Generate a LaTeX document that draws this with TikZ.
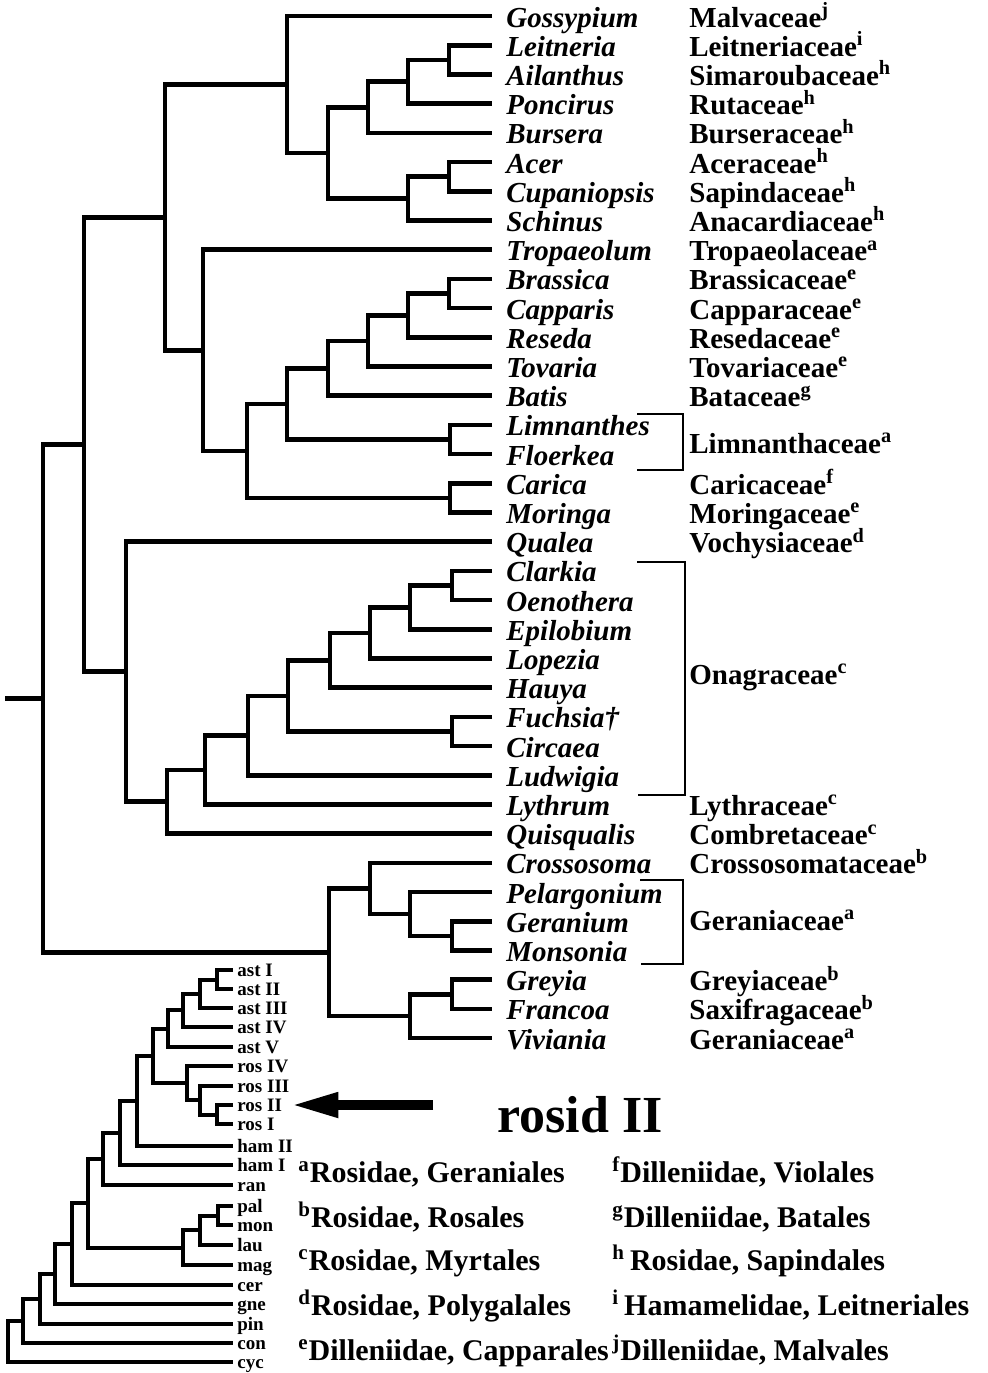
\documentclass[tikz,border=0pt]{standalone}
\usepackage{fontspec}
\setmainfont{Liberation Serif}
\usetikzlibrary{calc,arrows.meta}

\newcommand{\clade}[5][branch]{%
  \coordinate (#2m) at ($(#4)!0.5!(#5)$);
  \coordinate (#2) at (#3,0 |- #2m);
  \draw[#1] (#4) -| (#2) |- (#5);
}

\begin{document}
\begin{tikzpicture}
	[x=0.5pt, y=-0.5pt,
	branch/.style={line width=2.3pt},
	twig/.style={line width=2pt},
	bracket/.style={line width=1.2pt},
	genus/.style={anchor=west, inner xsep=7pt, inner ysep=0pt, text height=11pt, text depth=0pt, font=\fontsize{14.5}{16}\selectfont\bfseries\itshape},
	family/.style={anchor=west, inner sep=0pt, text height=11pt, text depth=0pt, font=\fontsize{14.5}{16}\selectfont\bfseries},
	group/.style={anchor=west, inner xsep=2pt, inner ysep=0pt, text height=6pt, text depth=0pt, font=\fontsize{9.5}{10}\selectfont\bfseries},
	note/.style={anchor=base west, inner sep=0pt, font=\fontsize{15}{18}\selectfont\bfseries},
	title/.style={anchor=base west, inner sep=0pt, font=\fontsize{26}{30}\selectfont\bfseries},
	pointer/.style={line width=5pt, -{Triangle[length=24pt,width=11.5pt]}}]
	\useasboundingbox (0,0) rectangle (988,1373);
	\node (gossypium) [genus] at (492,16) {Gossypium};
	\node (leitneria) [genus] at (492,45.2) {Leitneria};
	\node (ailanthus) [genus] at (492,74.4) {Ailanthus};
	\node (poncirus) [genus] at (492,103.6) {Poncirus};
	\node (bursera) [genus] at (492,132.8) {Bursera};
	\node (acer) [genus] at (492,162) {Acer};
	\node (cupaniopsis) [genus] at (492,191.2) {Cupaniopsis};
	\node (schinus) [genus] at (492,220.4) {Schinus};
	\node (tropaeolum) [genus] at (492,249.6) {Tropaeolum};
	\node (brassica) [genus] at (492,278.8) {Brassica};
	\node (capparis) [genus] at (492,308) {Capparis};
	\node (reseda) [genus] at (492,337.2) {Reseda};
	\node (tovaria) [genus] at (492,366.4) {Tovaria};
	\node (batis) [genus] at (492,395.6) {Batis};
	\node (limnanthes) [genus] at (492,424.8) {Limnanthes};
	\node (floerkea) [genus] at (492,454) {Floerkea};
	\node (carica) [genus] at (492,483.2) {Carica};
	\node (moringa) [genus] at (492,512.4) {Moringa};
	\node (qualea) [genus] at (492,541.6) {Qualea};
	\node (clarkia) [genus] at (492,570.8) {Clarkia};
	\node (oenothera) [genus] at (492,600) {Oenothera};
	\node (epilobium) [genus] at (492,629.2) {Epilobium};
	\node (lopezia) [genus] at (492,658.4) {Lopezia};
	\node (hauya) [genus] at (492,687.6) {Hauya};
	\node (fuchsia) [genus] at (492,716.8) {Fuchsia†};
	\node (circaea) [genus] at (492,746) {Circaea};
	\node (ludwigia) [genus] at (492,775.2) {Ludwigia};
	\node (lythrum) [genus] at (492,804.4) {Lythrum};
	\node (quisqualis) [genus] at (492,833.6) {Quisqualis};
	\node (crossosoma) [genus] at (492,862.8) {Crossosoma};
	\node (pelargonium) [genus] at (492,892) {Pelargonium};
	\node (geranium) [genus] at (492,921.2) {Geranium};
	\node (monsonia) [genus] at (492,950.4) {Monsonia};
	\node (greyia) [genus] at (492,979.6) {Greyia};
	\node (francoa) [genus] at (492,1008.8) {Francoa};
	\node (viviania) [genus] at (492,1038) {Viviania};

	\node (malvaceae) [family] at (689,16) {Malvaceae\textsuperscript{j}};
	\node (leitneriaceae) [family] at (689,45.2) {Leitneriaceae\textsuperscript{i}};
	\node (simaroubaceae) [family] at (689,74.4) {Simaroubaceae\textsuperscript{h}};
	\node (rutaceae) [family] at (689,103.6) {Rutaceae\textsuperscript{h}};
	\node (burseraceae) [family] at (689,132.8) {Burseraceae\textsuperscript{h}};
	\node (aceraceae) [family] at (689,162) {Aceraceae\textsuperscript{h}};
	\node (sapindaceae) [family] at (689,191.2) {Sapindaceae\textsuperscript{h}};
	\node (anacardiaceae) [family] at (689,220.4) {Anacardiaceae\textsuperscript{h}};
	\node (tropaeolaceae) [family] at (689,249.6) {Tropaeolaceae\textsuperscript{a}};
	\node (brassicaceae) [family] at (689,278.8) {Brassicaceae\textsuperscript{e}};
	\node (capparaceae) [family] at (689,308) {Capparaceae\textsuperscript{e}};
	\node (resedaceae) [family] at (689,337.2) {Resedaceae\textsuperscript{e}};
	\node (tovariaceae) [family] at (689,366.4) {Tovariaceae\textsuperscript{e}};
	\node (bataceae) [family] at (689,395.6) {Bataceae\textsuperscript{g}};
	\node (limnanthaceae) [family] at (689,442) {Limnanthaceae\textsuperscript{a}};
	\node (caricaceae) [family] at (689,483.2) {Caricaceae\textsuperscript{f}};
	\node (moringaceae) [family] at (689,512.4) {Moringaceae\textsuperscript{e}};
	\node (vochysiaceae) [family] at (689,541.6) {Vochysiaceae\textsuperscript{d}};
	\node (onagraceae) [family] at (689,673) {Onagraceae\textsuperscript{c}};
	\node (lythraceae) [family] at (689,804.4) {Lythraceae\textsuperscript{c}};
	\node (combretaceae) [family] at (689,833.6) {Combretaceae\textsuperscript{c}};
	\node (crossosomataceae) [family] at (689,862.8) {Crossosomataceae\textsuperscript{b}};
	\node (geraniaceae1) [family] at (689,919) {Geraniaceae\textsuperscript{a}};
	\node (greyiaceae) [family] at (689,979.6) {Greyiaceae\textsuperscript{b}};
	\node (saxifragaceae) [family] at (689,1008.8) {Saxifragaceae\textsuperscript{b}};
	\node (geraniaceae2) [family] at (689,1038) {Geraniaceae\textsuperscript{a}};

	\draw [bracket] (637,414) -| (683,470) -- (637,470);
	\draw [bracket] (637,562) -| (685,795) -- (638,795);
	\draw [bracket] (640,880) -| (683,964) -- (641,964);

	\clade{n1}{449}{leitneria.west}{ailanthus.west}
	\clade{n2}{408}{n1}{poncirus.west}
	\clade{n3}{368}{n2}{bursera.west}
	\clade{n4}{449}{acer.west}{cupaniopsis.west}
	\clade{n5}{408}{n4}{schinus.west}
	\clade{n6}{328}{n3}{n5}
	\clade{n7}{287}{gossypium.west}{n6}
	\clade{n8}{449}{brassica.west}{capparis.west}
	\clade{n9}{408}{n8}{reseda.west}
	\clade{n10}{368}{n9}{tovaria.west}
	\clade{n11}{328}{n10}{batis.west}
	\clade{n12}{450}{limnanthes.west}{floerkea.west}
	\clade{n13}{287}{n11}{n12}
	\clade{n14}{450}{carica.west}{moringa.west}
	\clade{n15}{247}{n13}{n14}
	\clade{n16}{203}{tropaeolum.west}{n15}
	\clade{n17}{165}{n7}{n16}
	\clade{n18}{452}{clarkia.west}{oenothera.west}
	\clade{n19}{410}{n18}{epilobium.west}
	\clade{n20}{370}{n19}{lopezia.west}
	\clade{n21}{330}{n20}{hauya.west}
	\clade{n22}{452}{fuchsia.west}{circaea.west}
	\clade{n23}{288}{n21}{n22}
	\clade{n24}{248}{n23}{ludwigia.west}
	\clade{n25}{205}{n24}{lythrum.west}
	\clade{n26}{167}{n25}{quisqualis.west}
	\clade{n27}{126}{qualea.west}{n26}
	\clade{n28}{84}{n17}{n27}
	\clade{n29}{452}{geranium.west}{monsonia.west}
	\clade{n30}{410}{pelargonium.west}{n29}
	\clade{n31}{370}{crossosoma.west}{n30}
	\clade{n32}{452}{greyia.west}{francoa.west}
	\clade{n33}{410}{n32}{viviania.west}
	\clade{n34}{329}{n31}{n33}
	\clade{n35}{43}{n28}{n34}
	\coordinate (root) at (5,0 |- n35);
	\draw [branch] (root) -- (n35);

	\node (astI) [group] at (233,970) {ast I};
	\node (astII) [group] at (233,989) {ast II};
	\node (astIII) [group] at (233,1008) {ast III};
	\node (astIV) [group] at (233,1027) {ast IV};
	\node (astV) [group] at (233,1047) {ast V};
	\node (rosIV) [group] at (233,1066) {ros IV};
	\node (rosIII) [group] at (233,1086) {ros III};
	\node (rosII) [group] at (233,1105) {ros II};
	\node (rosI) [group] at (233,1124) {ros I};
	\node (hamII) [group] at (233,1146) {ham II};
	\node (hamI) [group] at (233,1165) {ham I};
	\node (ran) [group] at (233,1185) {ran};
	\node (pal) [group] at (233,1206) {pal};
	\node (mon) [group] at (233,1225) {mon};
	\node (lau) [group] at (233,1245) {lau};
	\node (mag) [group] at (233,1265) {mag};
	\node (cer) [group] at (233,1285) {cer};
	\node (gne) [group] at (233,1304) {gne};
	\node (pin) [group] at (233,1324) {pin};
	\node (con) [group] at (233,1343) {con};
	\node (cyc) [group] at (233,1362) {cyc};

	\clade[twig]{k1}{217}{astI.west}{astII.west}
	\clade[twig]{k2}{200}{k1}{astIII.west}
	\clade[twig]{k3}{183}{k2}{astIV.west}
	\clade[twig]{k4}{168}{k3}{astV.west}
	\clade[twig]{k5}{217}{rosII.west}{rosI.west}
	\clade[twig]{k6}{200}{rosIII.west}{k5}
	\clade[twig]{k7}{187}{rosIV.west}{k6}
	\clade[twig]{k8}{153}{k4}{k7}
	\clade[twig]{k9}{137}{k8}{hamII.west}
	\clade[twig]{k10}{120}{k9}{hamI.west}
	\clade[twig]{k11}{103}{k10}{ran.west}
	\clade[twig]{k12}{218}{pal.west}{mon.west}
	\clade[twig]{k13}{200}{k12}{lau.west}
	\clade[twig]{k14}{183}{k13}{mag.west}
	\clade[twig]{k15}{88}{k11}{k14}
	\clade[twig]{k16}{72}{k15}{cer.west}
	\clade[twig]{k17}{55}{k16}{gne.west}
	\clade[twig]{k18}{40}{k17}{pin.west}
	\clade[twig]{k19}{23}{k18}{con.west}
	\clade[twig]{k20}{8}{k19}{cyc.west}

	\coordinate (arrowtail) at (433,0 |- rosII.east);
	\draw [pointer] (arrowtail) -- ([xshift=2pt]rosII.east);
	\node (rosid) [title] at (497,1132) {rosid II};

	\node (geraniales) [note] at (298,1182) {\textsuperscript{a}Rosidae, Geraniales};
	\node (rosales) [note] at (298,1227) {\textsuperscript{b}Rosidae, Rosales};
	\node (myrtales) [note] at (298,1270) {\textsuperscript{c}Rosidae, Myrtales};
	\node (polygalales) [note] at (298,1315) {\textsuperscript{d}Rosidae, Polygalales};
	\node (capparales) [note] at (298,1360) {\textsuperscript{e}Dilleniidae, Capparales};
	\node (violales) [note] at (612,1182) {\textsuperscript{f}Dilleniidae, Violales};
	\node (batales) [note] at (612,1227) {\textsuperscript{g}Dilleniidae, Batales};
	\node (sapindales) [note] at (612,1270) {\textsuperscript{h}\,Rosidae, Sapindales};
	\node (leitneriales) [note] at (612,1315) {\textsuperscript{i}\,Hamamelidae, Leitneriales};
	\node (malvales) [note] at (612,1360) {\textsuperscript{j}Dilleniidae, Malvales};
\end{tikzpicture}
\end{document}
